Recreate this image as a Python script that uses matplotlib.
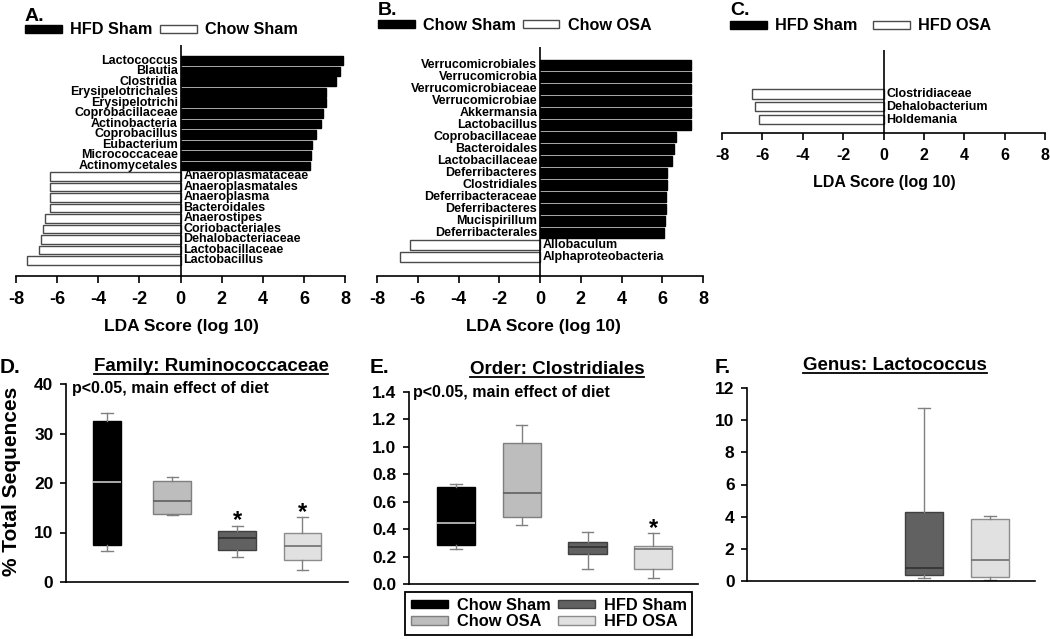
import numpy as np
import matplotlib
matplotlib.use('Agg')
import matplotlib.pyplot as plt
from matplotlib.patches import Patch
from matplotlib.lines import Line2D

plt.rcParams['font.family'] = ['Liberation Sans', 'DejaVu Sans']
plt.rcParams['font.weight'] = 'bold'

# ---------------- data ----------------
a_names = ['Lactococcus', 'Blautia', 'Clostridia', 'Erysipelotrichales', 'Erysipelotrichi',
           'Coprobacillaceae', 'Actinobacteria', 'Coprobacillus', 'Eubacterium', 'Micrococcaceae',
           'Actinomycetales', 'Anaeroplasmataceae', 'Anaeroplasmatales', 'Anaeroplasma',
           'Bacteroidales', 'Anaerostipes', 'Coriobacteriales', 'Dehalobacteriaceae',
           'Lactobacillaceae', 'Lactobacillus']
a_scores = [7.88, 7.75, 7.54, 7.07, 7.07, 6.95, 6.82, 6.59, 6.41, 6.35, 6.32,
            -6.34, -6.34, -6.37, -6.37, -6.59, -6.70, -6.76, -6.88, -7.45]
a_groups = ['HFD Sham', 'Chow Sham']

b_names = ['Verrucomicrobiales', 'Verrucomicrobia', 'Verrucomicrobiaceae', 'Verrucomicrobiae',
           'Akkermansia', 'Lactobacillus', 'Coprobacillaceae', 'Bacteroidales', 'Lactobacillaceae',
           'Deferribacteres', 'Clostridiales', 'Deferribacteraceae', 'Deferribacteres',
           'Mucispirillum', 'Deferribacterales', 'Allobaculum', 'Alphaproteobacteria']
b_scores = [7.40, 7.40, 7.40, 7.40, 7.40, 7.40, 6.69, 6.58, 6.50, 6.22, 6.22, 6.19, 6.19,
            6.14, 6.09, -6.36, -6.85]
b_groups = ['Chow Sham', 'Chow OSA']

c_names = ['Clostridiaceae', 'Dehalobacterium', 'Holdemania']
c_scores = [-6.52, -6.35, -6.19]
c_groups = ['HFD Sham', 'HFD OSA']

lda_ticks = [-8, -6, -4, -2, 0, 2, 4, 6, 8]

box_groups = ['Chow Sham', 'Chow OSA', 'HFD Sham', 'HFD OSA']

d_whislo = [6.3, 13.5, 5.05, 2.4]
d_q1 = [7.5, 13.8, 6.5, 4.5]
d_med = [20.3, 16.3, 8.9, 7.2]
d_q3 = [32.6, 20.5, 10.4, 10.0]
d_whishi = [34.1, 21.3, 11.4, 13.1]
d_star = [False, False, True, True]

e_whislo = [0.255, 0.43, 0.107, 0.041]
e_q1 = [0.284, 0.486, 0.216, 0.107]
e_med = [0.442, 0.661, 0.272, 0.253]
e_q3 = [0.705, 1.03, 0.304, 0.277]
e_whishi = [0.729, 1.157, 0.382, 0.369]
e_star = [False, False, False, True]

f_whislo = [None, None, 0.21, 0.08]
f_q1 = [None, None, 0.40, 0.23]
f_med = [None, None, 0.83, 1.29]
f_q3 = [None, None, 4.26, 3.83]
f_whishi = [None, None, 10.75, 4.05]
f_star = [False, False, False, False]

d_yticks = [0, 10, 20, 30, 40]
e_yticks = [0.0, 0.2, 0.4, 0.6, 0.8, 1.0, 1.2, 1.4]
f_yticks = [0, 2, 4, 6, 8, 10, 12]

# ---------------- styles ----------------
box_face = ['#000000', '#bdbdbd', '#616161', '#e1e1e1']
box_edge = ['#000000', '#7f7f7f', '#404040', '#8c8c8c']
box_med = ['#c8c8c8', '#606060', '#303030', '#707070']
whisk_col = '#808080'

W, H = 1050, 639
fig = plt.figure(figsize=(W / 100, H / 100), dpi=100)


def px_axes(l, t, r, b):
    return fig.add_axes([l / W, 1 - b / H, (r - l) / W, (b - t) / H])


def ftext(x, y, s, **kw):
    return fig.text(x / W, 1 - y / H, s, **kw)


def lda_panel(ax, names, scores, bar_h, ylim, fs_tick, pad):
    idx = np.arange(len(names))
    fc = ['black' if s > 0 else 'white' for s in scores]
    ec = ['black' if s > 0 else '#4a4a4a' for s in scores]
    ax.barh(idx, scores, height=bar_h, color=fc, edgecolor=ec, linewidth=1.0)
    for i, (n, s) in enumerate(zip(names, scores)):
        if s > 0:
            ax.annotate(n, (0, i), xytext=(-2, 0), textcoords='offset points',
                        ha='right', va='center', fontsize=9, fontweight='bold')
        else:
            ax.annotate(n, (0, i), xytext=(2, 0), textcoords='offset points',
                        ha='left', va='center', fontsize=9, fontweight='bold')
    ax.set_xlim(-8, 8)
    ax.set_ylim(*ylim)
    ax.axvline(0, color='black', lw=1.2)
    for sp in ['top', 'right', 'left']:
        ax.spines[sp].set_visible(False)
    ax.spines['bottom'].set_linewidth(1.2)
    ax.set_yticks([])
    ax.set_xticks(lda_ticks)
    ax.set_xticklabels([str(t) for t in lda_ticks], fontsize=fs_tick, fontweight='bold')
    ax.tick_params(axis='x', direction='out', length=5, width=1.2, pad=pad)
    ax.patch.set_alpha(0)


def lda_legend(x, y, groups, colsp):
    h = [Patch(facecolor='black', edgecolor='black', lw=1.0),
         Patch(facecolor='white', edgecolor='#4a4a4a', lw=1.0)]
    fig.legend(h, groups, loc='center left', bbox_to_anchor=(x / W, 1 - y / H), ncol=2,
               frameon=False, borderpad=0, borderaxespad=0, handlelength=2.25,
               handleheight=0.36, handletextpad=0.5, columnspacing=colsp,
               prop={'size': 11.7, 'weight': 'bold'})


# ---- A ----
axA = px_axes(16, 45, 345, 276)
lda_panel(axA, a_names, a_scores, 0.82, (len(a_names) - 1 + 1.48, -1.5), 13, 5.5)
lda_legend(25, 30, a_groups, 0.5)
ftext(25, 21, 'A.', fontsize=14, fontweight='bold', va='baseline')
ftext(181, 326, 'LDA Score (log 10)', fontsize=12.5, fontweight='bold', ha='center', va='center')

# ---- B ----
axB = px_axes(377, 47, 703, 276)
lda_panel(axB, b_names, b_scores, 0.83, (len(b_names) - 1 + 1.6, -1.53), 13, 5.5)
lda_legend(378, 25, b_groups, 0.45)
ftext(378, 15, 'B.', fontsize=14, fontweight='bold', va='baseline')
ftext(543, 326, 'LDA Score (log 10)', fontsize=12.5, fontweight='bold', ha='center', va='center')

# ---- C ----
axC = px_axes(722, 50, 1045, 133)
lda_panel(axC, c_names, c_scores, 0.72, (len(c_names) - 1 + 1.02, -3.38), 11.5, 5.5)
lda_legend(730, 26, c_groups, 1.0)
ftext(730, 15, 'C.', fontsize=14, fontweight='bold', va='baseline')
ftext(884, 182, 'LDA Score (log 10)', fontsize=11.5, fontweight='bold', ha='center', va='center')


# ---------------- box panels ----------------
def box_panel(ax, whislo, q1, med, q3, whishi, stars, widths, ylim, yticks, fmt, xlim):
    stats, pos, wid, ks = [], [], [], []
    for k in range(len(box_groups)):
        if med[k] is None:
            continue
        stats.append(dict(whislo=whislo[k], q1=q1[k], med=med[k], q3=q3[k],
                          whishi=whishi[k], fliers=[]))
        pos.append(k + 1)
        wid.append(widths[k])
        ks.append(k)
    bp = ax.bxp(stats, positions=pos, widths=wid, patch_artist=True, showfliers=False,
                capwidths=[0.17] * len(pos), manage_ticks=False)
    for j, k in enumerate(ks):
        bp['boxes'][j].set(facecolor=box_face[k], edgecolor=box_edge[k], linewidth=1.0)
        bp['medians'][j].set(color=box_med[k], linewidth=1.2)
        for w in bp['whiskers'][2 * j:2 * j + 2]:
            w.set(color=whisk_col, linewidth=1.0)
        for c in bp['caps'][2 * j:2 * j + 2]:
            c.set(color=whisk_col, linewidth=1.0)
        if stars[k]:
            ax.annotate('*', (pos[j], whishi[k]), xytext=(0, -1), textcoords='offset points',
                        ha='center', va='baseline', fontsize=17, fontweight='bold')
    ax.set_xlim(*xlim)
    ax.set_ylim(*ylim)
    ax.set_xticks([])
    ax.set_yticks(yticks)
    ax.set_yticklabels([fmt.format(t) for t in yticks], fontsize=12.5, fontweight='bold')
    ax.tick_params(axis='y', direction='out', length=4, width=1.2, pad=5)
    for sp in ['top', 'right']:
        ax.spines[sp].set_visible(False)
    ax.spines['left'].set_linewidth(1.2)
    ax.spines['bottom'].set_linewidth(1.2)
    ax.patch.set_alpha(0)


axD = px_axes(66, 384, 348, 582)
box_panel(axD, d_whislo, d_q1, d_med, d_q3, d_whishi, d_star, [0.43, 0.58, 0.58, 0.58],
          (0, 40), d_yticks, '{:d}', (0.37, 4.7))
axE = px_axes(409, 392, 698, 584)
box_panel(axE, e_whislo, e_q1, e_med, e_q3, e_whishi, e_star, [0.58] * 4,
          (0, 1.4), e_yticks, '{:.1f}', (0.285, 4.68))
axF = px_axes(747, 388, 1035, 581)
box_panel(axF, f_whislo, f_q1, f_med, f_q3, f_whishi, f_star, [0.58] * 4,
          (0, 12), f_yticks, '{:d}', (0.32, 4.68))

# labels / titles
ftext(0, 373, 'D.', fontsize=15, fontweight='bold', va='baseline')
ftext(370, 373, 'E.', fontsize=15, fontweight='bold', va='baseline')
ftext(715, 373, 'F.', fontsize=15, fontweight='bold', va='baseline')
titles = [(211, 371.5, 'Family: Ruminococcaceae'),
          (557, 374.5, 'Order: Clostridiales'),
          (895, 370.5, 'Genus: Lactococcus')]
title_objs = []
for x, y, s in titles:
    t = ftext(x, y, s, fontsize=13.5, fontweight='bold', ha='center', va='baseline')
    title_objs.append((t, y))
ftext(72, 393, 'p<0.05, main effect of diet', fontsize=11.5, fontweight='bold', va='baseline')
ftext(413, 396.5, 'p<0.05, main effect of diet', fontsize=11.5, fontweight='bold', va='baseline')
ftext(12, 481, '% Total Sequences', fontsize=15, fontweight='bold', rotation=90,
      ha='center', va='center')

# legend for box panels
lh = [Patch(facecolor=box_face[k], edgecolor=box_edge[k], lw=1.0) for k in range(4)]
leg = fig.legend(lh, box_groups, loc='upper left', bbox_to_anchor=(405 / W, 1 - 592 / H),
                 ncol=2, frameon=True, fancybox=False, edgecolor='black', framealpha=1,
                 borderpad=0.35, borderaxespad=0, handlelength=2.25, handleheight=0.4,
                 handletextpad=0.55, columnspacing=0.45, labelspacing=0.1,
                 prop={'size': 11.8, 'weight': 'bold'})
leg.get_frame().set_linewidth(1.3)

# underline titles
fig.canvas.draw()
r = fig.canvas.get_renderer()
for t, y in title_objs:
    bb = t.get_window_extent(r)
    yy = (H - y - 2.0) / H
    fig.add_artist(Line2D([bb.x0 / W, bb.x1 / W], [yy, yy], transform=fig.transFigure,
                          color='black', lw=1.3))

fig.savefig('out.png', dpi=100)
